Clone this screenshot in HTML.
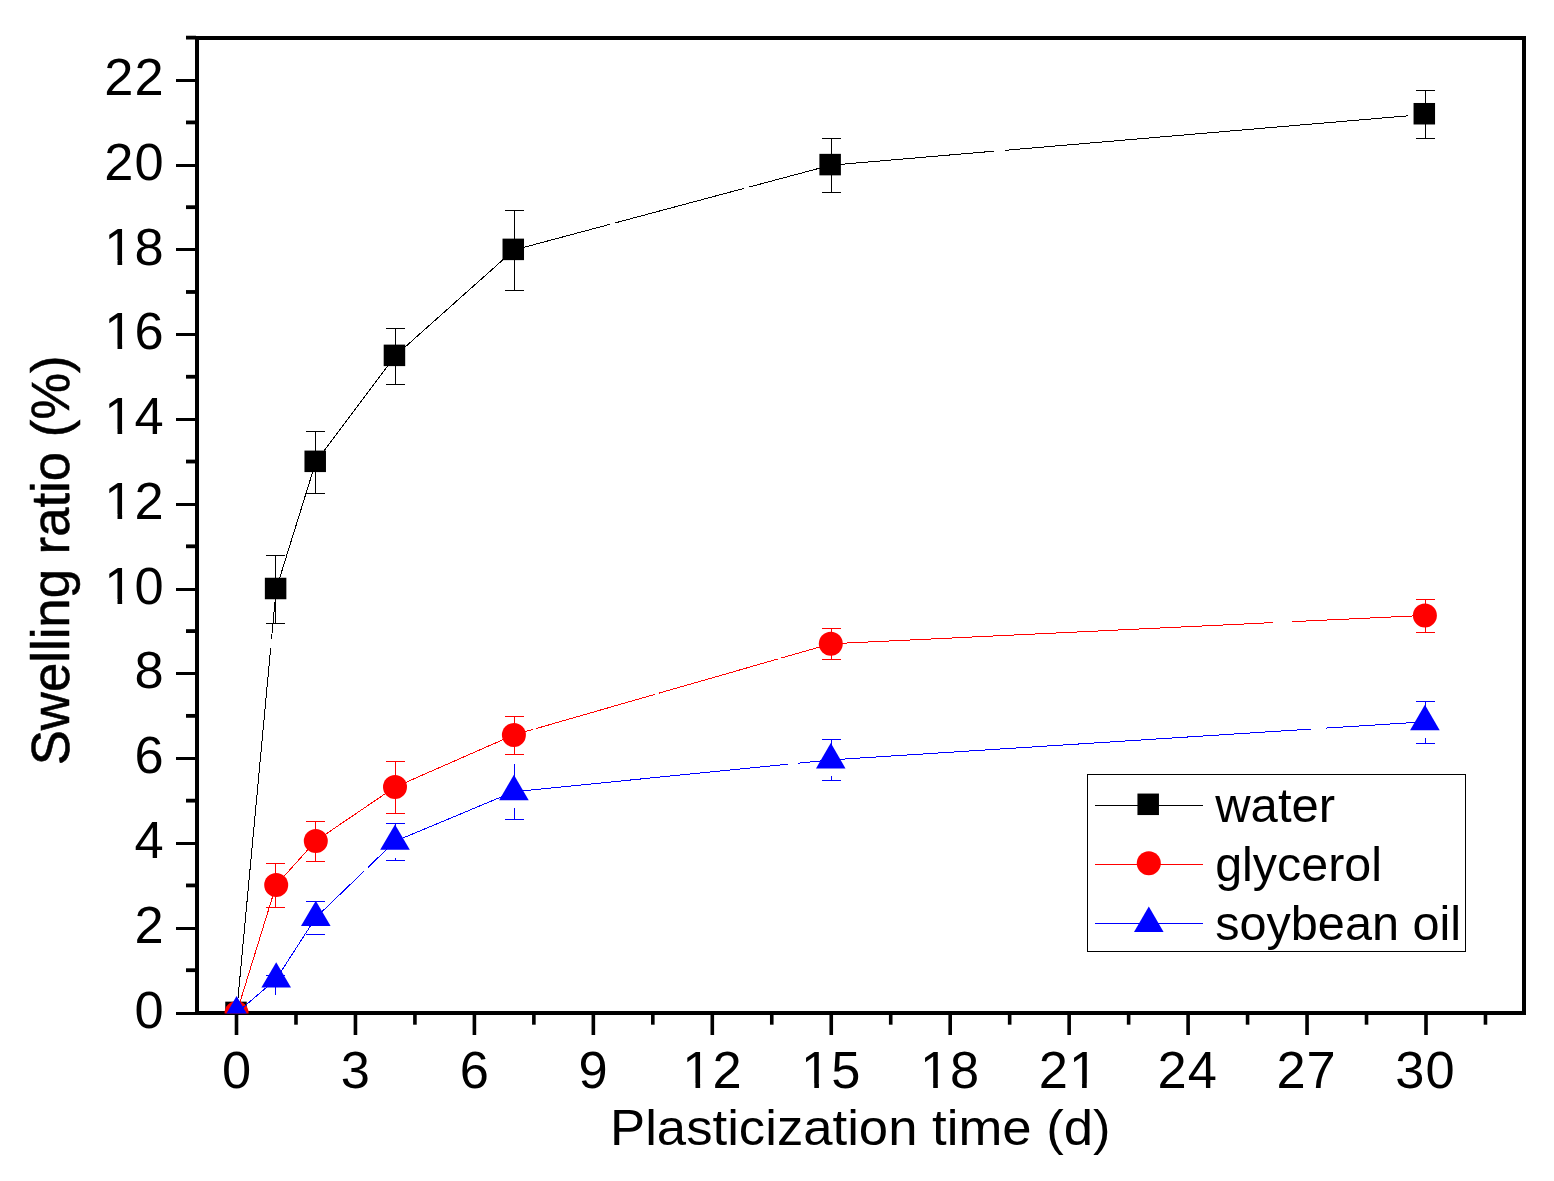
<!DOCTYPE html>
<html><head><meta charset="utf-8"><title>Swelling ratio vs plasticization time</title>
<style>html,body{margin:0;padding:0;background:#fff;}body{width:1554px;height:1181px;overflow:hidden;}svg{display:block;}text{font-family:"Liberation Sans",sans-serif;fill:#000;}</style>
</head><body>
<svg width="1554" height="1181" viewBox="0 0 1554 1181">
<rect x="0" y="0" width="1554" height="1181" fill="#fff"/>
<g fill="#000" shape-rendering="crispEdges">
<rect x="195" y="36" width="4" height="979"/>
<rect x="1522" y="36" width="4" height="979"/>
<rect x="195" y="36" width="1331" height="4"/>
<rect x="195" y="1011" width="1331" height="4"/>
<rect x="176" y="1012.0" width="20" height="3"/>
<rect x="186" y="968.31" width="10" height="3.8" shape-rendering="auto"/>
<rect x="176" y="927.0" width="20" height="3"/>
<rect x="186" y="883.53" width="10" height="3.8" shape-rendering="auto"/>
<rect x="176" y="842.0" width="20" height="3"/>
<rect x="186" y="798.75" width="10" height="3.8" shape-rendering="auto"/>
<rect x="176" y="757.0" width="20" height="3"/>
<rect x="186" y="713.97" width="10" height="3.8" shape-rendering="auto"/>
<rect x="176" y="672.0" width="20" height="3"/>
<rect x="186" y="629.19" width="10" height="3.8" shape-rendering="auto"/>
<rect x="176" y="588.0" width="20" height="3"/>
<rect x="186" y="544.41" width="10" height="3.8" shape-rendering="auto"/>
<rect x="176" y="503.0" width="20" height="3"/>
<rect x="186" y="459.63" width="10" height="3.8" shape-rendering="auto"/>
<rect x="176" y="418.0" width="20" height="3"/>
<rect x="186" y="374.85" width="10" height="3.8" shape-rendering="auto"/>
<rect x="176" y="333.0" width="20" height="3"/>
<rect x="186" y="290.07" width="10" height="3.8" shape-rendering="auto"/>
<rect x="176" y="248.0" width="20" height="3"/>
<rect x="186" y="205.29" width="10" height="3.8" shape-rendering="auto"/>
<rect x="176" y="164.0" width="20" height="3"/>
<rect x="186" y="120.51" width="10" height="3.8" shape-rendering="auto"/>
<rect x="176" y="79.0" width="20" height="3"/>
<rect x="186" y="35.73" width="10" height="3.8" shape-rendering="auto"/>
</g><g fill="#000">
<rect x="234.70" y="1014" width="3.6" height="21"/>
<rect x="294.18" y="1014" width="3.6" height="10.7"/>
<rect x="353.65" y="1014" width="3.6" height="21"/>
<rect x="413.12" y="1014" width="3.6" height="10.7"/>
<rect x="472.60" y="1014" width="3.6" height="21"/>
<rect x="532.07" y="1014" width="3.6" height="10.7"/>
<rect x="591.55" y="1014" width="3.6" height="21"/>
<rect x="651.02" y="1014" width="3.6" height="10.7"/>
<rect x="710.50" y="1014" width="3.6" height="21"/>
<rect x="769.97" y="1014" width="3.6" height="10.7"/>
<rect x="829.45" y="1014" width="3.6" height="21"/>
<rect x="888.92" y="1014" width="3.6" height="10.7"/>
<rect x="948.40" y="1014" width="3.6" height="21"/>
<rect x="1007.87" y="1014" width="3.6" height="10.7"/>
<rect x="1067.35" y="1014" width="3.6" height="21"/>
<rect x="1126.83" y="1014" width="3.6" height="10.7"/>
<rect x="1186.30" y="1014" width="3.6" height="21"/>
<rect x="1245.77" y="1014" width="3.6" height="10.7"/>
<rect x="1305.25" y="1014" width="3.6" height="21"/>
<rect x="1364.72" y="1014" width="3.6" height="10.7"/>
<rect x="1424.20" y="1014" width="3.6" height="21"/>
<rect x="1483.67" y="1014" width="3.6" height="10.7"/>
</g>
<g font-size="50.9" letter-spacing="0.90">
<g transform="translate(164.5,1027.5) scale(1.030,1)"><text text-anchor="end">0</text></g>
<g transform="translate(164.5,942.7) scale(1.030,1)"><text text-anchor="end">2</text></g>
<g transform="translate(164.5,857.9) scale(1.030,1)"><text text-anchor="end">4</text></g>
<g transform="translate(164.5,773.2) scale(1.030,1)"><text text-anchor="end">6</text></g>
<g transform="translate(164.5,688.4) scale(1.030,1)"><text text-anchor="end">8</text></g>
<g transform="translate(164.5,603.6) scale(1.030,1)"><text text-anchor="end">10</text><rect x="-55.87" y="-4.40" width="10.25" height="5.80" fill="#fff"/><rect x="-41.12" y="-4.40" width="9.68" height="5.80" fill="#fff"/></g>
<g transform="translate(164.5,518.8) scale(1.030,1)"><text text-anchor="end">12</text><rect x="-55.87" y="-4.40" width="10.25" height="5.80" fill="#fff"/><rect x="-41.12" y="-4.40" width="9.68" height="5.80" fill="#fff"/></g>
<g transform="translate(164.5,434.0) scale(1.030,1)"><text text-anchor="end">14</text><rect x="-55.87" y="-4.40" width="10.25" height="5.80" fill="#fff"/><rect x="-41.12" y="-4.40" width="9.68" height="5.80" fill="#fff"/></g>
<g transform="translate(164.5,349.3) scale(1.030,1)"><text text-anchor="end">16</text><rect x="-55.87" y="-4.40" width="10.25" height="5.80" fill="#fff"/><rect x="-41.12" y="-4.40" width="9.68" height="5.80" fill="#fff"/></g>
<g transform="translate(164.5,264.5) scale(1.030,1)"><text text-anchor="end">18</text><rect x="-55.87" y="-4.40" width="10.25" height="5.80" fill="#fff"/><rect x="-41.12" y="-4.40" width="9.68" height="5.80" fill="#fff"/></g>
<g transform="translate(164.5,179.7) scale(1.030,1)"><text text-anchor="end">20</text></g>
<g transform="translate(164.5,94.9) scale(1.030,1)"><text text-anchor="end">22</text></g>
<g transform="translate(237.1,1088.0) scale(1.030,1)"><text text-anchor="middle">0</text></g>
<g transform="translate(355.9,1088.0) scale(1.030,1)"><text text-anchor="middle">3</text></g>
<g transform="translate(474.8,1088.0) scale(1.030,1)"><text text-anchor="middle">6</text></g>
<g transform="translate(593.6,1088.0) scale(1.030,1)"><text text-anchor="middle">9</text></g>
<g transform="translate(712.4,1088.0) scale(1.030,1)"><text text-anchor="middle">12</text><rect x="-26.66" y="-4.40" width="10.25" height="5.80" fill="#fff"/><rect x="-11.91" y="-4.40" width="9.68" height="5.80" fill="#fff"/></g>
<g transform="translate(831.2,1088.0) scale(1.030,1)"><text text-anchor="middle">15</text><rect x="-26.66" y="-4.40" width="10.25" height="5.80" fill="#fff"/><rect x="-11.91" y="-4.40" width="9.68" height="5.80" fill="#fff"/></g>
<g transform="translate(950.1,1088.0) scale(1.030,1)"><text text-anchor="middle">18</text><rect x="-26.66" y="-4.40" width="10.25" height="5.80" fill="#fff"/><rect x="-11.91" y="-4.40" width="9.68" height="5.80" fill="#fff"/></g>
<g transform="translate(1068.9,1088.0) scale(1.030,1)"><text text-anchor="middle">21</text><rect x="2.54" y="-4.40" width="10.25" height="5.80" fill="#fff"/><rect x="17.30" y="-4.40" width="9.68" height="5.80" fill="#fff"/></g>
<g transform="translate(1187.7,1088.0) scale(1.030,1)"><text text-anchor="middle">24</text></g>
<g transform="translate(1306.6,1088.0) scale(1.030,1)"><text text-anchor="middle">27</text></g>
<g transform="translate(1425.4,1088.0) scale(1.030,1)"><text text-anchor="middle">30</text></g>
</g>
<text transform="translate(860.3,1144.6) scale(1.062,1)" font-size="49.6" text-anchor="middle">Plasticization time (d)</text>
<text transform="translate(68.5,560.3) rotate(-90) scale(1,1.02)" font-size="52.7" stroke="#000" stroke-width="0.5" text-anchor="middle">Swelling ratio (%)</text>
<defs><clipPath id="plot"><rect x="197" y="38" width="1327" height="975.5"/></clipPath></defs>
<g clip-path="url(#plot)">
<path d="M236.6,1013.0L270.7,648.0M271.5,639.0L276.2,589.1M276.2,589.1L315.8,461.9M315.8,461.9L395.0,356.0M395.0,356.0L513.9,250.0M513.9,250.0L610.4,224.2M615.5,222.8L744.3,188.3M749.3,187.0L830.8,165.2M830.8,165.2L994.0,151.2M1005.2,150.3L1408.0,115.8" fill="none" stroke="#000000" stroke-width="1" shape-rendering="crispEdges"/>
<path d="M275.5,555.2L275.5,589.1M275.5,589.1L275.5,623.0M265.5,555.5L285.0,555.5M265.5,623.5L285.0,623.5" fill="none" stroke="#000000" stroke-width="1" shape-rendering="crispEdges"/>
<path d="M315.5,430.6L315.5,461.9M315.5,461.9L315.5,493.3M305.5,431.5L325.0,431.5M305.5,493.5L325.0,493.5" fill="none" stroke="#000000" stroke-width="1" shape-rendering="crispEdges"/>
<path d="M395.5,328.0L395.5,356.0M395.5,356.0L395.5,383.9M385.5,328.5L405.0,328.5M385.5,384.5L405.0,384.5" fill="none" stroke="#000000" stroke-width="1" shape-rendering="crispEdges"/>
<path d="M514.5,210.1L514.5,250.0M514.5,250.0L514.5,289.8M504.5,210.5L524.0,210.5M504.5,290.5L524.0,290.5" fill="none" stroke="#000000" stroke-width="1" shape-rendering="crispEdges"/>
<path d="M831.5,138.1L831.5,165.2M831.5,165.2L831.5,192.3M821.5,138.5L841.0,138.5M821.5,192.5L841.0,192.5" fill="none" stroke="#000000" stroke-width="1" shape-rendering="crispEdges"/>
<path d="M1425.5,90.2L1425.5,114.3M1425.5,114.3L1425.5,138.5M1415.5,90.5L1435.0,90.5M1415.5,138.5L1435.0,138.5" fill="none" stroke="#000000" stroke-width="1" shape-rendering="crispEdges"/>
<rect x="225.25" y="1001.65" width="21.5" height="21.5" fill="#000000"/>
<rect x="264.86" y="577.75" width="21.5" height="21.5" fill="#000000"/>
<rect x="304.47" y="450.58" width="21.5" height="21.5" fill="#000000"/>
<rect x="383.69" y="344.61" width="21.5" height="21.5" fill="#000000"/>
<rect x="502.52" y="238.63" width="21.5" height="21.5" fill="#000000"/>
<rect x="819.40" y="153.85" width="21.5" height="21.5" fill="#000000"/>
<rect x="1413.55" y="102.98" width="21.5" height="21.5" fill="#000000"/>
<path d="M236.6,1013.0L276.2,885.0M276.2,885.0L315.8,840.9M315.8,840.9L395.0,787.1M395.0,787.1L513.9,734.9M513.9,734.9L533.0,729.4M536.0,728.6L655.4,694.2M658.8,693.2L778.2,658.9M781.5,657.9L830.8,643.8M830.8,643.8L1273.0,622.6M1291.7,621.7L1424.9,615.4" fill="none" stroke="#ff0000" stroke-width="1" shape-rendering="crispEdges"/>
<path d="M275.5,862.9L275.5,885.0M275.5,885.0L275.5,907.0M265.5,863.5L285.0,863.5M265.5,907.5L285.0,907.5" fill="none" stroke="#ff0000" stroke-width="1" shape-rendering="crispEdges"/>
<path d="M315.5,821.0L315.5,840.9M315.5,840.9L315.5,860.8M305.5,821.5L325.0,821.5M305.5,861.5L325.0,861.5" fill="none" stroke="#ff0000" stroke-width="1" shape-rendering="crispEdges"/>
<path d="M395.5,760.8L395.5,787.1M395.5,787.1L395.5,813.3M385.5,761.5L405.0,761.5M385.5,813.5L405.0,813.5" fill="none" stroke="#ff0000" stroke-width="1" shape-rendering="crispEdges"/>
<path d="M514.5,715.8L514.5,734.9M514.5,734.9L514.5,754.0M504.5,716.5L524.0,716.5M504.5,754.5L524.0,754.5" fill="none" stroke="#ff0000" stroke-width="1" shape-rendering="crispEdges"/>
<path d="M831.5,628.1L831.5,643.8M831.5,643.8L831.5,659.5M821.5,628.5L841.0,628.5M821.5,659.5L841.0,659.5" fill="none" stroke="#ff0000" stroke-width="1" shape-rendering="crispEdges"/>
<path d="M1425.5,598.8L1425.5,615.4M1425.5,615.4L1425.5,631.9M1415.5,599.5L1435.0,599.5M1415.5,632.5L1435.0,632.5" fill="none" stroke="#ff0000" stroke-width="1" shape-rendering="crispEdges"/>
<circle cx="236.6" cy="1013.0" r="12.0" fill="#ff0000"/>
<circle cx="276.2" cy="885.0" r="12.0" fill="#ff0000"/>
<circle cx="315.8" cy="840.9" r="12.0" fill="#ff0000"/>
<circle cx="395.0" cy="787.1" r="12.0" fill="#ff0000"/>
<circle cx="513.9" cy="734.9" r="12.0" fill="#ff0000"/>
<circle cx="830.8" cy="643.8" r="12.0" fill="#ff0000"/>
<circle cx="1424.9" cy="615.4" r="12.0" fill="#ff0000"/>
<path d="M236.6,1013.0L276.2,979.1M276.2,979.1L315.8,917.6M315.8,917.6L363.6,871.6M367.7,867.7L395.0,841.3M395.0,841.3L513.9,791.7M513.9,791.7L788.3,764.2M797.7,763.2L830.8,759.9M830.8,759.9L1310.8,729.1M1326.0,728.1L1424.9,721.8" fill="none" stroke="#0000ff" stroke-width="1" shape-rendering="crispEdges"/>
<path d="M275.5,975.4L275.5,979.1M275.5,979.1L275.5,994.7M265.5,975.5L285.0,975.5" fill="none" stroke="#0000ff" stroke-width="1" shape-rendering="crispEdges"/>
<path d="M315.5,901.1L315.5,917.6M315.5,934.1L315.5,934.2M305.5,901.5L325.0,901.5M305.5,934.5L325.0,934.5" fill="none" stroke="#0000ff" stroke-width="1" shape-rendering="crispEdges"/>
<path d="M395.5,822.7L395.5,841.3M395.5,857.8L395.5,860.0M385.5,823.5L405.0,823.5M385.5,860.5L405.0,860.5" fill="none" stroke="#0000ff" stroke-width="1" shape-rendering="crispEdges"/>
<path d="M514.5,764.2L514.5,791.7M514.5,808.2L514.5,819.3M504.5,819.5L524.0,819.5" fill="none" stroke="#0000ff" stroke-width="1" shape-rendering="crispEdges"/>
<path d="M831.5,739.4L831.5,759.9M831.5,776.4L831.5,780.5M821.5,739.5L841.0,739.5M821.5,780.5L841.0,780.5" fill="none" stroke="#0000ff" stroke-width="1" shape-rendering="crispEdges"/>
<path d="M1425.5,701.0L1425.5,721.8M1425.5,738.3L1425.5,742.6M1415.5,701.5L1435.0,701.5M1415.5,743.5L1435.0,743.5" fill="none" stroke="#0000ff" stroke-width="1" shape-rendering="crispEdges"/>
<polygon points="236.6,996.1 221.8,1021.5 251.4,1021.5" fill="#0000ff"/>
<polygon points="276.2,962.2 261.4,987.6 291.0,987.6" fill="#0000ff"/>
<polygon points="315.8,900.7 301.0,926.1 330.6,926.1" fill="#0000ff"/>
<polygon points="395.0,824.4 380.2,849.8 409.8,849.8" fill="#0000ff"/>
<polygon points="513.9,774.8 499.1,800.2 528.7,800.2" fill="#0000ff"/>
<polygon points="830.8,743.0 816.0,768.4 845.5,768.4" fill="#0000ff"/>
<polygon points="1424.9,704.8 1410.1,730.2 1439.7,730.2" fill="#0000ff"/>
</g>
<rect x="1087.5" y="774.5" width="378" height="177" fill="#fff" stroke="#000" stroke-width="1" shape-rendering="crispEdges"/>
<path d="M1095,805.5L1203,805.5" stroke="#000000" stroke-width="1" shape-rendering="crispEdges"/>
<rect x="1137.45" y="793.55" width="21.5" height="21.5" fill="#000000"/>
<text transform="translate(1215.2,821.8) scale(1.022,1)" font-size="48">water</text>
<path d="M1095,864.5L1203,864.5" stroke="#ff0000" stroke-width="1" shape-rendering="crispEdges"/>
<circle cx="1148.8" cy="863.3" r="12.0" fill="#ff0000"/>
<text transform="translate(1215.2,880.9) scale(1.008,1)" font-size="48">glycerol</text>
<path d="M1095,923.5L1203,923.5" stroke="#0000ff" stroke-width="1" shape-rendering="crispEdges"/>
<polygon points="1148.8,906.6 1134.0,932.0 1163.6,932.0" fill="#0000ff"/>
<text transform="translate(1215.2,940.0) scale(1.013,1)" font-size="48">soybean oil</text>
</svg></body></html>
